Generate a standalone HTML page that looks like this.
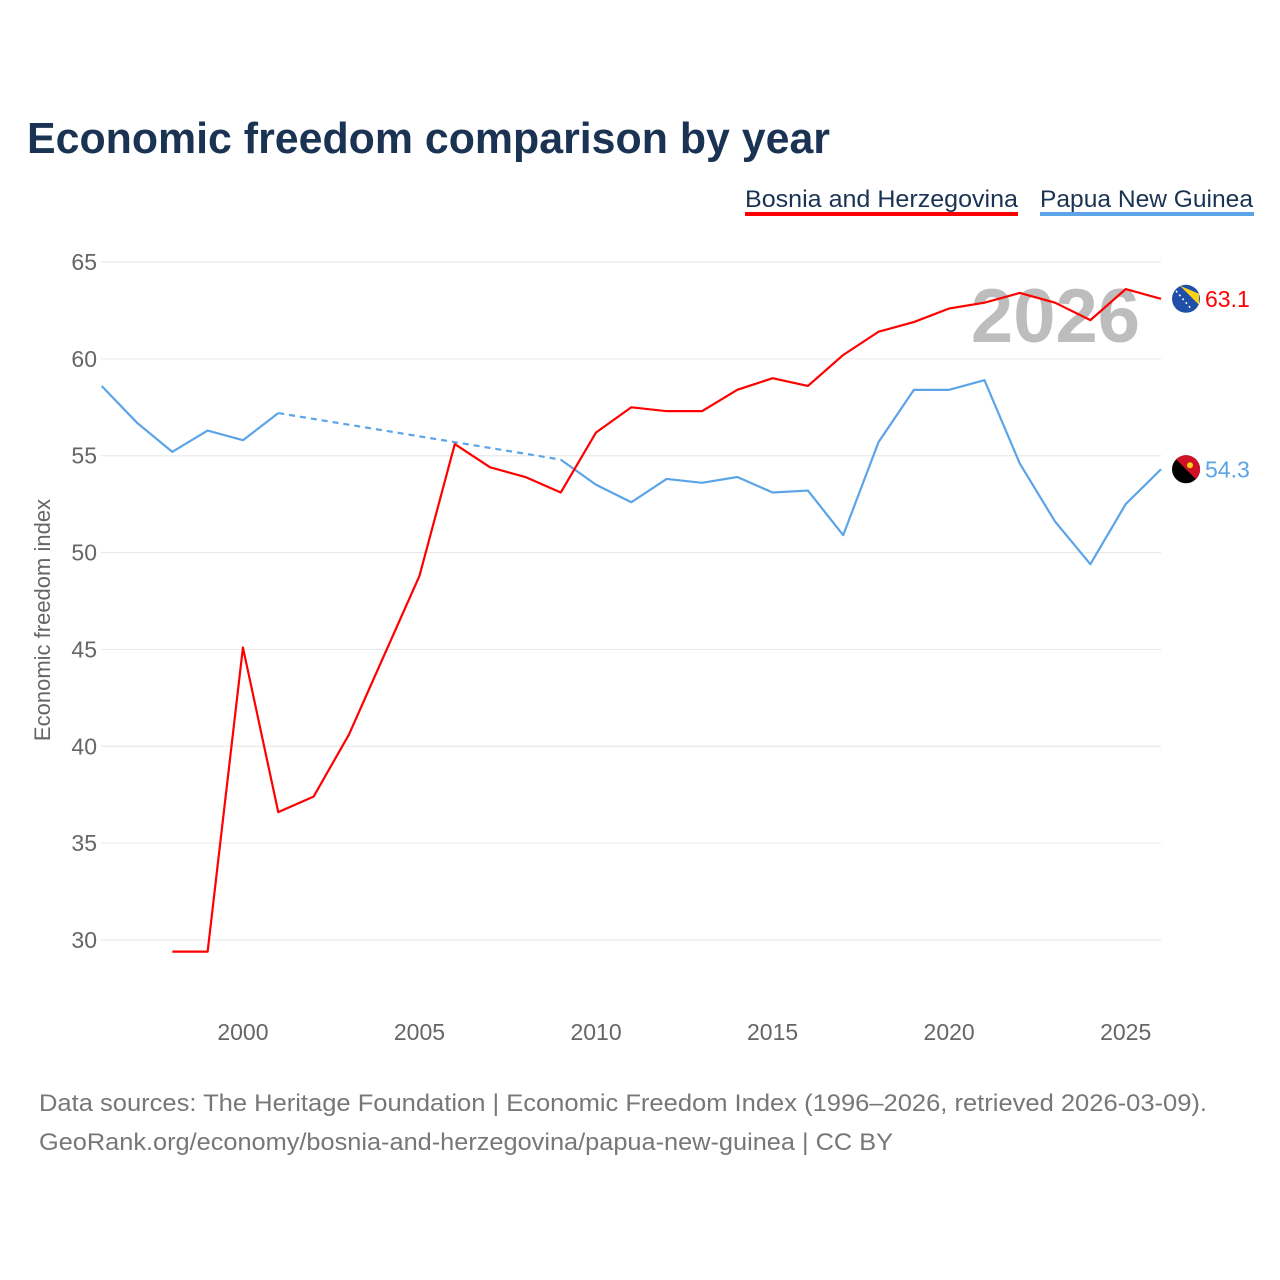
<!DOCTYPE html>
<html><head><meta charset="utf-8">
<style>
body{margin:0;background:#fff;font-family:"Liberation Sans",sans-serif;}
#wrap{position:relative;width:1280px;height:1280px;overflow:hidden;}
</style></head>
<body><div id="wrap">
<svg id="chart" width="1280" height="1280" font-family="Liberation Sans, sans-serif"></svg>
</div>
<script>
const years = [1996,1997,1998,1999,2000,2001,2002,2003,2004,2005,2006,2007,2008,2009,2010,2011,2012,2013,2014,2015,2016,2017,2018,2019,2020,2021,2022,2023,2024,2025,2026];
const bihValues = [null,null,29.4,29.4,45.1,36.6,37.4,40.6,44.7,48.8,55.6,54.4,53.9,53.1,56.2,57.5,57.3,57.3,58.4,59.0,58.6,60.2,61.4,61.9,62.6,62.9,63.4,62.9,62.0,63.6,63.1];
const pngValues = [58.6,56.7,55.2,56.3,55.8,57.2,null,null,null,null,null,null,null,54.8,53.5,52.6,53.8,53.6,53.9,53.1,53.2,50.9,55.7,58.4,58.4,58.9,54.6,51.6,49.4,52.5,54.3];
const yTicks = [30,35,40,45,50,55,60,65];
const xTicks = [2000,2005,2010,2015,2020,2025];
const seriesNames = ["Bosnia and Herzegovina","Papua New Guinea"];

const NS="http://www.w3.org/2000/svg";
const svg=document.getElementById('chart');
const X0=101.7, XR=1161, Y65=262, Y30=940;
const x=v=>X0+(v-1996)*(XR-X0)/30;
const y=v=>Y30-(v-30)*(Y30-Y65)/35;
function mk(tag,attrs,parent){const e=document.createElementNS(NS,tag);for(const k in attrs)e.setAttribute(k,attrs[k]);(parent||svg).appendChild(e);return e;}
function txt(s,attrs){const e=mk('text',attrs);e.textContent=s;return e;}

let t=txt("Economic freedom comparison by year",{x:27,y:153,'font-size':44,'font-weight':'bold',fill:'#1b3353',textLength:803,lengthAdjust:'spacingAndGlyphs'});



let l1=txt(seriesNames[0],{x:745,y:207,'font-size':24,fill:'#1b3353',textLength:273,lengthAdjust:'spacingAndGlyphs'});


mk('rect',{x:745,y:212,width:273,height:4,fill:'#ff0000'});
let l2=txt(seriesNames[1],{x:1040,y:207,'font-size':24,fill:'#1b3353',textLength:213,lengthAdjust:'spacingAndGlyphs'});


mk('rect',{x:1040,y:212,width:214,height:4,fill:'#5ba4e8'});

yTicks.forEach(v=>{
  let g=mk('line',{x1:101,x2:XR,y1:y(v),y2:y(v),stroke:'#e6e6e6','stroke-width':1});
  
  
  let lb=txt(String(v),{x:97,y:y(v)+8,'font-size':23,fill:'#666','text-anchor':'end'});
  
  
});
xTicks.forEach(v=>{
  let lb=txt(String(v),{x:x(v),y:1040,'font-size':23,fill:'#666','text-anchor':'middle'});
  
  
});
let yt=txt("Economic freedom index",{x:0,y:0,'font-size':22,fill:'#666','text-anchor':'middle',transform:'translate(50,620) rotate(-90)'});



let yr=txt("2026",{x:1140,y:342,'font-size':76,'font-weight':'bold',fill:'#bdbdbd','text-anchor':'end'});



function drawSeries(vals,color,name){
  let solid=[],dashes=[],seg=[],lastPt=null,gap=false;
  vals.forEach((v,i)=>{
    if(v==null){ if(seg.length){solid.push(seg);seg=[];} gap=true; return;}
    const p=[x(years[i]),y(v)];
    if(gap&&lastPt){dashes.push([lastPt,p]);}
    gap=false; seg.push(p); lastPt=p;
  });
  if(seg.length)solid.push(seg);
  solid.forEach(s=>{
    let p=mk('polyline',{points:s.map(q=>q.join(',')).join(' '),fill:'none',stroke:color,'stroke-width':2.2,'stroke-linejoin':'round'});
    
    
  });
  dashes.forEach(d=>{
    let p=mk('line',{x1:d[0][0],y1:d[0][1],x2:d[1][0],y2:d[1][1],stroke:color,'stroke-width':2.2,'stroke-dasharray':'6,5'});
    
    
  });
}
drawSeries(pngValues,'#5ba4e8','papua-new-guinea');
drawSeries(bihValues,'#ff0000','bosnia');

function endLabel(vals,color,name,flag){
  const v=vals[vals.length-1], cy=y(v);
  const c=mk('g',{});
  
  
  flag(c,1186,cy);
  let lb=txt(v.toFixed(1),{x:1205,y:cy+8,'font-size':23,fill:color});
  
  
}
endLabel(bihValues,'#ff0000','bosnia',(g,cx,cy)=>{
  mk('circle',{cx,cy,r:14,fill:'#1f4fa8'},g);
  mk('path',{d:`M${cx-6},${cy-13} L${cx+13},${cy-5} L${cx+13},${cy+6} Z`,fill:'#fcd116'},g);
  mk('line',{x1:cx-10,y1:cy-8,x2:cx+6,y2:cy+11,stroke:'#fff','stroke-width':1.5,'stroke-dasharray':'2,3'},g);
});
endLabel(pngValues,'#5ba4e8','papua-new-guinea',(g,cx,cy)=>{
  mk('circle',{cx,cy,r:14,fill:'#000'},g);
  mk('path',{d:`M${cx-10},${cy-10} A14,14 0 0 1 ${cx+10},${cy+10} Z`,fill:'#ce1126'},g);
  mk('circle',{cx:cx+4,cy:cy-4,r:3,fill:'#fcd116'},g);
});

let s1=txt("Data sources: The Heritage Foundation | Economic Freedom Index (1996–2026, retrieved 2026-03-09).",{x:39,y:1111,'font-size':24,fill:'#777',textLength:1168,lengthAdjust:'spacingAndGlyphs'});


let s2=txt("GeoRank.org/economy/bosnia-and-herzegovina/papua-new-guinea | CC BY",{x:39,y:1150,'font-size':24,fill:'#777',textLength:854,lengthAdjust:'spacingAndGlyphs'});


</script>
</body></html>
